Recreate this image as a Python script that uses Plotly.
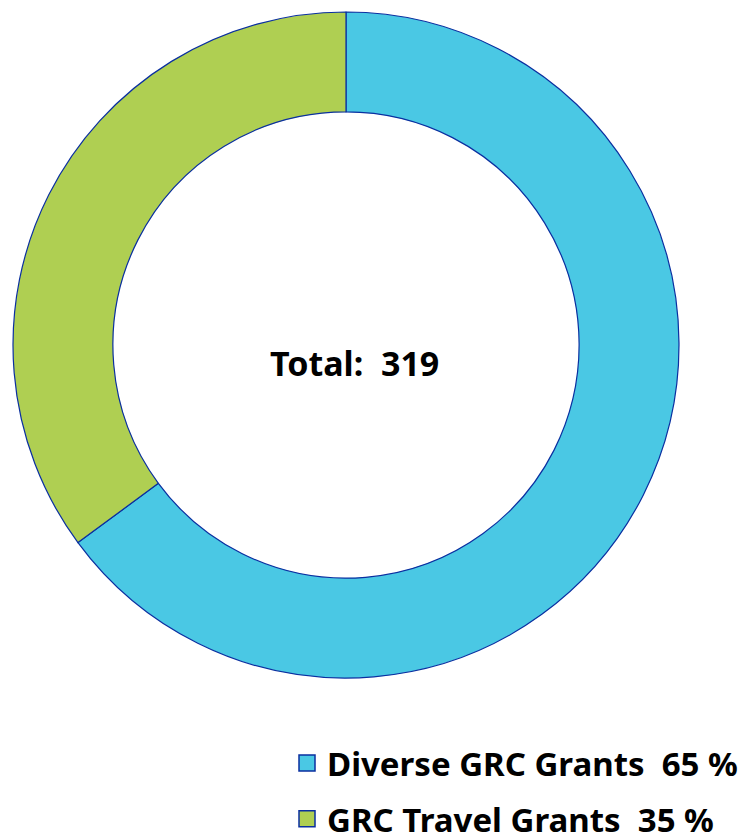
import plotly.graph_objects as go

categories = ["Diverse GRC Grants", "GRC Travel Grants"]
counts = [207, 112]
colors = ["#4ac8e4", "#afcf52"]
edge = "#0a2fa0"

W, H = 747, 839
total = sum(counts)
pcts = [round(v / total * 100) for v in counts]

fig = go.Figure()
fig.add_trace(
    go.Pie(
        labels=categories,
        values=counts,
        hole=0.70,
        sort=False,
        direction="clockwise",
        rotation=0,
        textinfo="none",
        hoverinfo="label+value+percent",
        showlegend=False,
        marker=dict(colors=colors, line=dict(color=edge, width=1.2)),
        domain=dict(x=[4 / W, 672 / W], y=[1 - 670 / H, 1 - 4 / H]),
    )
)

# legend entries (square swatches) for each slice
for i, (cat, pct, col) in enumerate(zip(categories, pcts, colors)):
    fig.add_trace(
        go.Scatter(
            x=[None],
            y=[None],
            mode="markers",
            name=f"{cat}  {pct} %",
            legendgroup=f"g{i}",
            marker=dict(symbol="square", size=16, color=col,
                        line=dict(color=edge, width=1.5)),
        )
    )

fig.add_annotation(
    text=f"<b>Total:  {total}</b>",
    x=346 / W,
    y=1 - 355 / H,
    xref="paper",
    yref="paper",
    showarrow=False,
    font=dict(size=34, color="#000000", family="Noto Sans"),
)

fig.update_layout(
    width=W,
    height=H,
    margin=dict(l=0, r=0, t=0, b=0),
    paper_bgcolor="white",
    plot_bgcolor="white",
    xaxis=dict(visible=False),
    yaxis=dict(visible=False),
    font=dict(family="Noto Sans", color="#000000"),
    legend=dict(
        x=279 / W,
        y=0.0,
        xanchor="left",
        yanchor="bottom",
        font=dict(size=33, family="Noto Sans", weight="bold", color="#000000"),
        itemsizing="trace",
        tracegroupgap=10,
    ),
)

fig.write_html("out.html")
